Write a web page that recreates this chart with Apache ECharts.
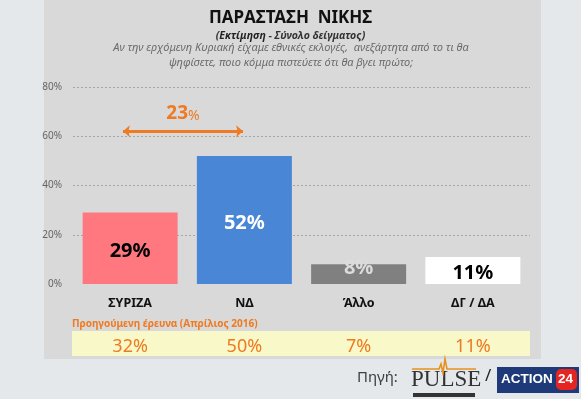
<!DOCTYPE html>
<html>
<head>
<meta charset="utf-8">
<script src="https://cdn.jsdelivr.net/npm/echarts@6/dist/echarts.min.js"></script>
<style>
  html, body { margin: 0; padding: 0; background: #e4e8eb; }
  #chart { width: 581px; height: 399px; }
</style>
</head>
<body>
<div id="chart"></div>
<script>
// ψήφοι - εκτίμηση
var categories = ['ΣΥΡΙΖΑ', 'ΝΔ', 'Άλλο', 'ΔΓ / ΔΑ'];
var values = [29, 52, 8, 11];
var prevValues = [32, 50, 7, 11];   // Απρίλιος 2016
var barColors = ['#ff7880', '#4a86d6', '#808080', '#ffffff'];
var labelColors = ['#000000', '#ffffff', '#dcdcdc', '#000000'];
var yTicks = [0, 20, 40, 60, 80];

var orange = '#ee7a22';
var font = 'Noto Sans';
var gap = values[1] - values[0];

var chart = echarts.init(document.getElementById('chart'));

var option = {
  backgroundColor: '#e4e8eb',
  animation: false,
  textStyle: { fontFamily: font },
  title: [{
    text: 'ΠΑΡΑΣΤΑΣΗ  ΝΙΚΗΣ',
    left: 'center',
    top: 5,
    textStyle: { fontSize: 17, fontWeight: 'bold', color: '#111', fontFamily: font }
  }, {
    text: '({b|Εκτίμηση} - Σύνολο δείγματος)',
    left: 'center',
    top: 26,
    textStyle: {
      fontSize: 10.5, fontStyle: 'italic', color: '#333', fontFamily: font,
      rich: { b: { fontSize: 10.5, fontStyle: 'italic', fontWeight: 'bold', color: '#222', fontFamily: font } }
    }
  }],
  grid: { left: 73, right: 51, top: 87, bottom: 115 },
  xAxis: [{
    type: 'category',
    data: categories,
    z: 5,
    axisLine: { show: false },
    axisTick: { show: false },
    axisLabel: { margin: 13, fontSize: 12.5, fontWeight: 'bold', color: '#111' }
  }, {
    type: 'category',
    data: categories,
    position: 'bottom',
    offset: 50,
    z: 5,
    axisLine: { show: false },
    axisTick: { show: false },
    axisLabel: {
      margin: 4, fontSize: 18, color: orange,
      formatter: function (v, i) { return prevValues[i] + '%'; }
    }
  }],
  yAxis: {
    type: 'value',
    min: yTicks[0],
    max: yTicks[yTicks.length - 1],
    interval: 20,
    axisLine: { show: false },
    axisTick: { show: false },
    axisLabel: { margin: 11, fontSize: 10, color: '#666', formatter: '{value}%' },
    splitLine: { showMinLine: false, lineStyle: { color: '#a6a6a6', type: [2, 2], width: 1 } }
  },
  series: [{
    type: 'bar',
    barWidth: 95,
    data: values.map(function (v, i) {
      return {
        value: v,
        itemStyle: { color: barColors[i] },
        label: { color: labelColors[i], offset: v < 10 ? [0, -6] : [0, 3] }
      };
    }),
    label: {
      show: true,
      position: 'inside',
      fontSize: 20,
      fontWeight: 'bold',
      formatter: '{c}%'
    },
    markLine: {
      silent: true,
      symbol: ['arrow', 'arrow'],
      symbolSize: [9, 7],
      lineStyle: { color: orange, width: 3, type: 'solid' },
      label: {
        position: 'middle',
        distance: 8,
        formatter: '{n|' + gap + '}{p|%}',
        rich: {
          n: { fontSize: 19, fontWeight: 'bold', color: orange, fontFamily: font },
          p: { fontSize: 14, color: orange, fontFamily: font, padding: [4, 0, 0, 0] }
        }
      },
      data: [[{ coord: [categories[0], 62], x: 123 }, { coord: [categories[1], 62], x: 243 }]]
    }
  }],
  graphic: [
    // panel
    { type: 'rect', z: -10, shape: { x: 44, y: 0, width: 497, height: 359 }, style: { fill: '#d9d9d9' } },
    // question
    { type: 'text', x: 291, y: 40, style: {
        text: 'Αν την ερχόμενη Κυριακή είχαμε εθνικές εκλογές,  ανεξάρτητα από το τι θα\nψηφίσετε, ποιο κόμμα πιστεύετε ότι θα βγει πρώτο;',
        align: 'center', fill: '#6b6b6b', font: 'italic 11px "Noto Sans"', lineHeight: 15 } },
    // yellow band
    { type: 'rect', z: -5, shape: { x: 72, y: 331, width: 458, height: 25 }, style: { fill: '#f8f8c8' } },
    { type: 'text', left: 72, top: 319, style: { text: 'Προηγούμενη έρευνα (Απρίλιος 2016)', fill: orange, font: 'bold 10px "Noto Sans"' } },
    // source
    { type: 'text', left: 357, top: 370, style: { text: 'Πηγή:', fill: '#404040', font: '15px "Noto Sans"' } },
    { type: 'text', left: 411, top: 368, style: { text: 'PULSE', fill: '#333', font: '23px "Liberation Serif"' } },
    { type: 'polyline', z: 10, shape: { points: [[412, 369], [439, 369], [441, 364], [443, 373], [445, 359], [447, 369], [476, 369]] }, style: { stroke: '#e8901e', lineWidth: 1.6, fill: null } },
    { type: 'rect', shape: { x: 413, y: 393, width: 62, height: 4 }, style: { fill: '#333' } },
    { type: 'text', left: 485, top: 368, style: { text: '/', fill: '#222', font: '17px "Noto Sans"' } },
    { type: 'rect', shape: { x: 497, y: 367, width: 82, height: 26 }, style: { fill: '#1e3a78' } },
    { type: 'text', left: 501, top: 372, style: { text: 'ACTION', fill: '#fff', font: 'bold 13.5px "Liberation Sans"' } },
    { type: 'rect', shape: { x: 556, y: 369, width: 21, height: 21, r: 5 }, style: { fill: '#e52521' } },
    { type: 'text', left: 558, top: 372, style: { text: '24', fill: '#fff', font: 'bold 13.5px "Liberation Sans"' } }
  ]
};

chart.setOption(option);
</script>
</body>
</html>
